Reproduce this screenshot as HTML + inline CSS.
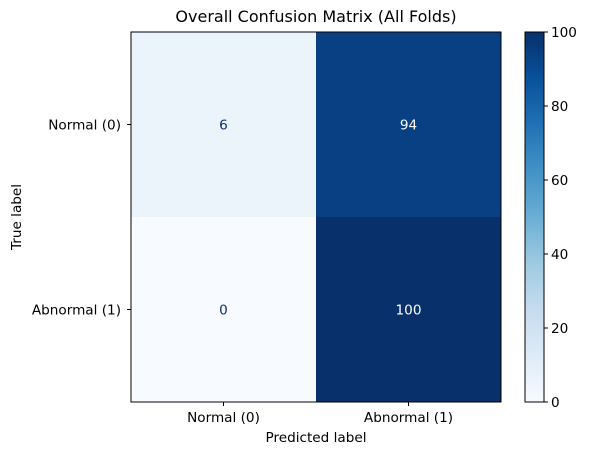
<!DOCTYPE html>
<html><head><meta charset="utf-8"><style>
body{margin:0;background:#fff}
text{font-family:"DejaVu Sans","Liberation Sans",sans-serif;}
</style></head><body>
<svg id="c" width="589" height="455" xmlns="http://www.w3.org/2000/svg"></svg>
<script>
const classLabels=["Normal (0)","Abnormal (1)"];
const matrixValues=[[6,94],[0,100]];
const cbTicks=[0,20,40,60,80,100];
const title="Overall Confusion Matrix (All Folds)";
const NS="http://www.w3.org/2000/svg";
const svg=document.getElementById('c');
function el(t,a,txt){const e=document.createElementNS(NS,t);for(const k in a)e.setAttribute(k,a[k]);if(txt!==undefined)e.textContent=txt;svg.appendChild(e);return e;}
const stops=["#f7fbff","#deebf7","#c6dbef","#9ecae1","#6baed6","#4292c6","#2171b5","#08519c","#08306b"];
function hx(h){return [1,3,5].map(i=>parseInt(h.substr(i,2),16));}
function blues(t){t=Math.max(0,Math.min(1,t));const p=t*8,i=Math.min(7,Math.floor(p)),f=p-i;const a=hx(stops[i]),b=hx(stops[i+1]);return "rgb("+a.map((v,k)=>Math.round(v+(b[k]-v)*f)).join(",")+")";}
const L=131,T=32,S=370,n=classLabels.length,cs=S/n;
const FS='13.6';
const vmin=0,vmax=Math.max(...matrixValues.flat());
const xs=j=>L+cs*(j+0.5), ys=i=>T+cs*(i+0.5);
let e=el('text',{x:316,y:22,'text-anchor':'middle','font-size':'16'},title);


for(let i=0;i<n;i++)for(let j=0;j<n;j++){
 const v=matrixValues[i][j],t=(v-vmin)/(vmax-vmin);
 e=el('rect',{x:L+cs*j,y:T+cs*i,width:cs+0.5,height:cs+0.5,fill:blues(t)});
 
 
 e=el('text',{x:xs(j),y:ys(i)+5,'text-anchor':'middle','font-size':FS,fill:t>0.5?'#fff':'#08306b'},String(v));
 
 
}
e=el('rect',{x:L,y:T,width:S,height:S,fill:'none',stroke:'#000','stroke-width':1});


classLabels.forEach((c,k)=>{
 el('line',{x1:xs(k),x2:xs(k),y1:T+S,y2:T+S+4,stroke:'#000'});
 e=el('text',{x:xs(k),y:T+S+20,'text-anchor':'middle','font-size':FS},c);
 
 
 el('line',{x1:L-4,x2:L,y1:ys(k),y2:ys(k),stroke:'#000'});
 e=el('text',{x:L-10,y:ys(k)+5,'text-anchor':'end','font-size':FS},c);
 
 
});
e=el('text',{x:316,y:442,'text-anchor':'middle','font-size':FS},"Predicted label");


e=el('text',{x:0,y:0,'text-anchor':'middle','font-size':FS,transform:'translate(21,217) rotate(-90)'},"True label");


const CX=525,CW=19;
const g=document.createElementNS(NS,'defs');svg.appendChild(g);
const lg=document.createElementNS(NS,'linearGradient');lg.setAttribute('id','gb');lg.setAttribute('x1','0');lg.setAttribute('y1','1');lg.setAttribute('x2','0');lg.setAttribute('y2','0');g.appendChild(lg);
stops.forEach((s,k)=>{const st=document.createElementNS(NS,'stop');st.setAttribute('offset',k/8);st.setAttribute('stop-color',s);lg.appendChild(st);});
e=el('rect',{x:CX,y:T,width:CW,height:S,fill:'url(#gb)',stroke:'#000','stroke-width':1});


const cy=v=>T+S-(v-vmin)/(vmax-vmin)*S;
cbTicks.forEach(v=>{
 el('line',{x1:CX+CW,x2:CX+CW+4,y1:cy(v),y2:cy(v),stroke:'#000'});
 e=el('text',{x:CX+CW+7,y:cy(v)+5,'font-size':FS},String(v));
 
 
});
</script>
</body></html>
